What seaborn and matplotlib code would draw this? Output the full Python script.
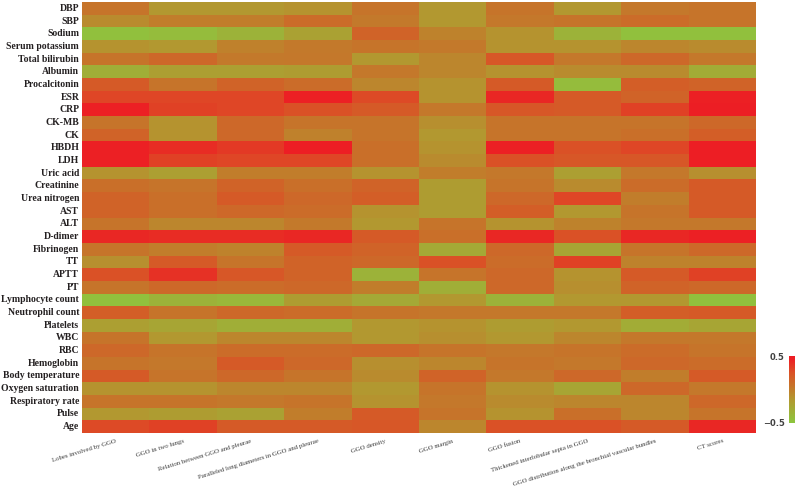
import numpy as np
import pandas as pd
import seaborn as sns
import matplotlib

matplotlib.use("Agg")
import matplotlib.pyplot as plt
from matplotlib.colors import LinearSegmentedColormap

sns.set_style("white")
plt.rcParams["font.family"] = ["Liberation Serif", "DejaVu Serif"]

# row labels (clinical indicators), top to bottom
indicators = [
    "DBP", "SBP", "Sodium", "Serum potassium", "Total bilirubin", "Albumin",
    "Procalcitonin", "ESR", "CRP", "CK-MB", "CK", "HBDH", "LDH", "Uric acid",
    "Creatinine", "Urea nitrogen", "AST", "ALT", "D-dimer", "Fibrinogen", "TT",
    "APTT", "PT", "Lymphocyte count", "Neutrophil count", "Platelets", "WBC",
    "RBC", "Hemoglobin", "Body temperature", "Oxygen saturation",
    "Respiratory rate", "Pulse", "Age",
]

# column labels (CT features)
features = [
    "Lobes involved by GGO",
    "GGO in two lungs",
    "Relation between GGO and pleurae",
    "Paralleled long diameters in GGO and pleurae",
    "GGO density",
    "GGO margin",
    "GGO fusion",
    "Thickened interlobular septa in GGO",
    "GGO distribution along the bronchial vascular bundles",
    "CT scores",
]

# correlation values, one list per CT feature
lobes_involved = [0.05, -0.08, -0.45, -0.12, 0.05, -0.32, 0.2, 0.3, 0.45, 0.05, 0.15, 0.45, 0.45, -0.12, 0.08, 0.15, 0.15,
                  0.05, 0.42, 0.05, -0.1, 0.25, 0.05, -0.45, 0.18, -0.2, 0.05, 0.12, 0.05, 0.2, -0.12, 0.05, -0.15, 0.28]
two_lungs = [-0.15, 0.0, -0.42, -0.15, 0.12, -0.2, 0.05, 0.3, 0.32, -0.12, -0.12, 0.4, 0.32, -0.2, 0.05, 0.08, 0.08,
             -0.05, 0.4, 0.0, 0.2, 0.38, 0.12, -0.35, 0.05, -0.25, -0.15, 0.05, 0.03, 0.05, -0.12, 0.05, -0.18, 0.32]
pleurae_relation = [-0.15, 0.0, -0.35, -0.02, 0.02, -0.2, 0.15, 0.3, 0.3, 0.12, 0.12, 0.35, 0.3, 0.0, 0.15, 0.2, 0.12,
                    -0.05, 0.4, -0.03, 0.05, 0.22, 0.1, -0.38, 0.12, -0.32, -0.05, 0.1, 0.2, 0.12, -0.05, 0.03, -0.22, 0.2]
paralleled_diam = [-0.12, 0.1, -0.22, 0.02, 0.03, -0.18, 0.1, 0.45, 0.25, 0.05, -0.02, 0.48, 0.3, 0.0, 0.08, 0.12, 0.1,
                   0.02, 0.42, 0.2, 0.15, 0.15, 0.12, -0.18, 0.1, -0.32, -0.05, 0.1, 0.12, 0.05, -0.05, 0.05, 0.0, 0.2]
ggo_density = [0.05, 0.02, 0.15, 0.05, -0.15, 0.03, -0.05, 0.28, 0.2, 0.05, 0.05, 0.08, 0.08, -0.12, 0.15, 0.18, -0.12,
               -0.15, 0.2, 0.15, 0.12, -0.35, 0.0, -0.28, 0.05, -0.15, -0.15, 0.12, -0.1, -0.08, -0.15, -0.12, 0.2, 0.22]
ggo_margin = [-0.15, -0.15, -0.03, 0.02, -0.05, -0.05, -0.12, -0.12, 0.03, -0.1, -0.15, -0.12, -0.08, 0.0, -0.18, -0.18, -0.18,
              0.05, 0.08, -0.28, 0.25, 0.05, -0.32, -0.15, 0.03, -0.12, -0.1, 0.05, -0.05, 0.15, 0.05, 0.03, 0.05, -0.05]
ggo_fusion = [0.05, 0.03, -0.12, -0.12, 0.22, -0.12, 0.2, 0.42, 0.22, 0.05, 0.05, 0.45, 0.25, 0.03, 0.05, 0.12, 0.18,
              -0.12, 0.42, 0.12, 0.1, 0.12, 0.12, -0.35, 0.03, -0.18, -0.15, 0.03, 0.05, 0.03, -0.12, -0.08, -0.12, 0.25]
thick_septa = [-0.15, 0.05, -0.35, -0.12, 0.03, -0.08, -0.42, 0.2, 0.2, 0.05, 0.05, 0.25, 0.22, -0.2, -0.08, 0.3, -0.15,
               -0.03, 0.25, -0.25, 0.32, -0.12, -0.1, -0.15, 0.03, -0.15, -0.05, 0.05, 0.03, 0.12, -0.25, -0.05, 0.08, 0.25]
bronchial_dist = [0.03, 0.1, -0.45, -0.05, 0.12, -0.08, 0.18, 0.15, 0.32, 0.05, 0.08, 0.3, 0.22, 0.03, 0.1, 0.0, 0.05,
                  0.03, 0.42, 0.05, -0.03, 0.2, 0.15, -0.15, 0.18, -0.3, 0.03, 0.1, 0.12, 0.0, 0.12, -0.05, -0.05, 0.2]
ct_scores = [0.05, 0.05, -0.45, -0.08, 0.03, -0.3, 0.15, 0.45, 0.47, 0.12, 0.18, 0.48, 0.48, -0.1, 0.2, 0.2, 0.2,
             0.03, 0.45, 0.12, -0.03, 0.32, 0.12, -0.45, 0.2, -0.25, 0.03, 0.05, 0.1, 0.2, 0.03, 0.12, 0.05, 0.42]

df = pd.DataFrame(
    {
        features[0]: lobes_involved,
        features[1]: two_lungs,
        features[2]: pleurae_relation,
        features[3]: paralleled_diam,
        features[4]: ggo_density,
        features[5]: ggo_margin,
        features[6]: ggo_fusion,
        features[7]: thick_septa,
        features[8]: bronchial_dist,
        features[9]: ct_scores,
    },
    index=indicators,
)

# green -> olive -> brown/orange -> red
cmap = LinearSegmentedColormap.from_list(
    "green_red",
    [
        (0.0, (140 / 255, 198 / 255, 63 / 255)),
        (0.35, (178 / 255, 152 / 255, 48 / 255)),
        (0.55, (198 / 255, 116 / 255, 42 / 255)),
        (0.75, (218 / 255, 82 / 255, 38 / 255)),
        (0.95, (236 / 255, 32 / 255, 36 / 255)),
        (1.0, (237 / 255, 28 / 255, 36 / 255)),
    ],
)

fig = plt.figure(figsize=(8, 4.91), dpi=100)
ax = fig.add_axes([82 / 800, 1 - 433 / 491, 674 / 800, 431 / 491])
cax = fig.add_axes([789 / 800, 1 - 423 / 491, 6 / 800, 67 / 491])

sns.heatmap(
    df,
    ax=ax,
    cmap=cmap,
    vmin=-0.5,
    vmax=0.5,
    xticklabels=True,
    yticklabels=True,
    cbar_ax=cax,
    cbar_kws={"ticks": [-0.5, 0.5]},
)

ax.tick_params(axis="both", length=0, pad=2)
ax.set_yticklabels(indicators, fontsize=7.0, fontweight="bold", color="#231f20", rotation=0)
ax.set_xticklabels(features, fontsize=4.9, color="#3a3a3a", rotation=17, ha="right", rotation_mode="anchor")
ax.tick_params(axis="x", pad=4)
ax.set_xlabel("")
ax.set_ylabel("")

cbar = ax.collections[0].colorbar
cbar.outline.set_visible(False)
cax.yaxis.set_ticks_position("left")
cax.tick_params(length=0, pad=3)
for lbl in cax.get_yticklabels():
    lbl.set_fontsize(6)
    lbl.set_fontweight("bold")
    lbl.set_color("#404040")
    lbl.set_family(["DejaVu Sans"])

fig.savefig("out.png", dpi=100)
